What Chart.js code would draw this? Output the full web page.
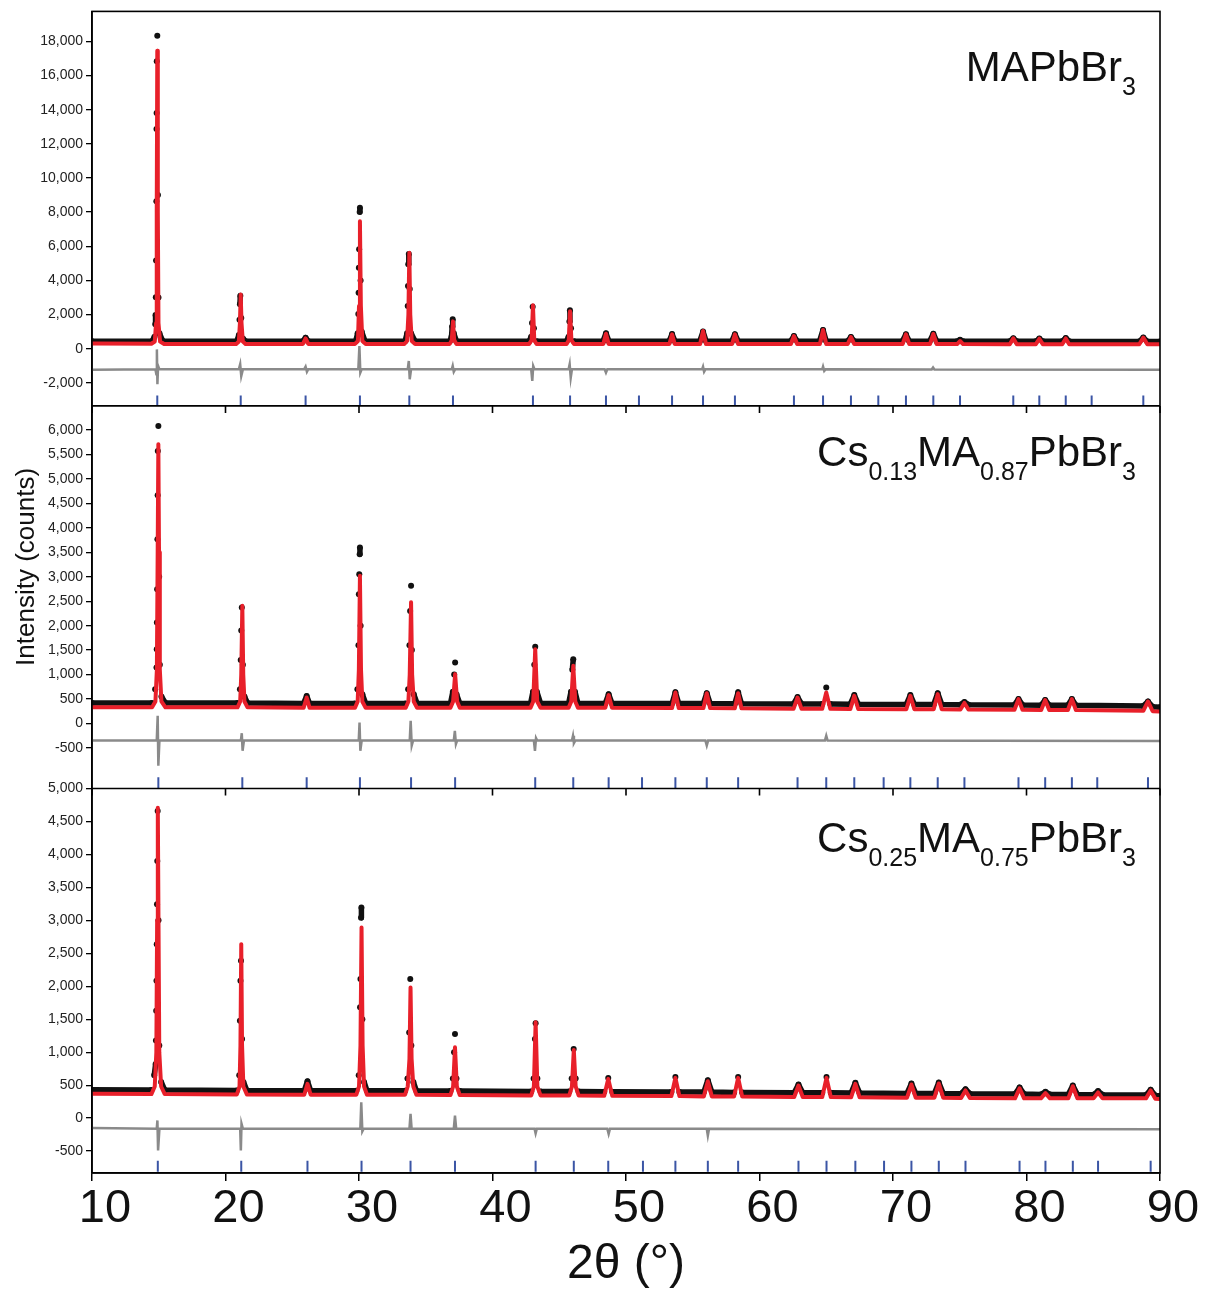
<!DOCTYPE html>
<html>
<head>
<meta charset="utf-8">
<title>XRD Rietveld refinement</title>
<script src="https://cdn.jsdelivr.net/npm/chart.js@4.4.1/dist/chart.umd.min.js"></script>
<style>
  html, body { margin: 0; padding: 0; background: #fff; }
  #wrap { width: 1209px; height: 1294px; }
</style>
</head>
<body>
<div id="wrap"><canvas id="xrd" width="1209" height="1294"></canvas></div>
<script>
// ---- data: [2theta, counts] ----

// MAPbBr3 (top panel)
const calcMA = [
  [10, 300], [14.45, 290], [14.7, 420], [14.8, 1500], [14.85, 8000], [14.89, 17450], [14.93, 8000], [14.98, 1500], [15.1, 420], [15.4, 280],
  [20.8, 280], [21.0, 420], [21.08, 1500], [21.14, 3180], [21.2, 1500], [21.3, 420], [21.5, 280],
  [25.8, 280], [26.0, 600], [26.2, 280],
  [29.7, 280], [29.92, 450], [30.0, 2500], [30.07, 7470], [30.14, 2500], [30.25, 450], [30.5, 280],
  [33.4, 280], [33.6, 450], [33.7, 2000], [33.77, 5615], [33.84, 2000], [33.95, 450], [34.2, 280],
  [36.8, 280], [36.95, 500], [37.04, 1600], [37.13, 500], [37.3, 280],
  [42.75, 280], [42.93, 500], [43.03, 2540], [43.13, 500], [43.3, 280],
  [45.55, 280], [45.71, 500], [45.81, 2200], [45.91, 500], [46.1, 280],
  [48.3, 280], [48.5, 880], [48.7, 280],
  [53.25, 275], [53.45, 840], [53.65, 275],
  [55.55, 275], [55.77, 1035], [55.99, 275],
  [57.95, 275], [58.16, 842], [58.4, 275],
  [62.35, 270], [62.58, 743], [62.82, 270],
  [64.52, 270], [64.76, 1094], [65.0, 270],
  [66.6, 270], [66.85, 684], [67.1, 270],
  [70.72, 270], [70.97, 842], [71.22, 270],
  [72.77, 270], [73.02, 861], [73.27, 270],
  [74.8, 270], [75.02, 450], [75.25, 270],
  [78.75, 265], [79.01, 608], [79.27, 265],
  [80.7, 265], [80.96, 585], [81.22, 265],
  [82.68, 265], [82.94, 600], [83.2, 265],
  [88.45, 260], [88.75, 650], [89.05, 260],
  [90, 255]
];
const obsMA = [
  [10, 440], [14.5, 440], [14.68, 700],
  [14.74, 1430], [14.76, 1970], [14.78, 3020], [14.8, 5170], [14.82, 8640], [14.83, 12870], [14.84, 13800], [14.85, 16830], [14.89, 18330], [14.94, 9000], [14.98, 3000], [15.05, 900], [15.3, 450],
  [20.85, 440], [21.0, 800], [21.05, 1700], [21.08, 2600], [21.11, 3100], [21.18, 1800], [21.3, 600], [21.5, 440],
  [25.8, 440], [26.0, 640], [26.2, 440],
  [29.75, 440], [29.9, 900], [29.95, 2030], [29.97, 3280], [29.99, 4740], [30.01, 5820], [30.05, 8000], [30.07, 8250], [30.12, 4000], [30.2, 1000], [30.45, 440],
  [33.45, 440], [33.6, 900], [33.65, 2500], [33.67, 3670], [33.69, 4940], [33.73, 5540], [33.8, 3500], [33.9, 900], [34.2, 440],
  [36.8, 440], [36.93, 700], [36.98, 1300], [37.02, 1720], [37.1, 900], [37.3, 440],
  [42.75, 440], [42.9, 700], [42.96, 1500], [43.01, 2450], [43.1, 1200], [43.3, 440],
  [45.55, 440], [45.7, 700], [45.76, 1600], [45.8, 2250], [45.88, 1200], [46.1, 440],
  [48.28, 440], [48.5, 900], [48.72, 440],
  [53.23, 440], [53.45, 860], [53.67, 440],
  [55.53, 440], [55.77, 1000], [56.0, 440],
  [57.93, 440], [58.16, 850], [58.4, 440],
  [62.33, 440], [62.58, 740], [62.83, 440],
  [64.5, 440], [64.76, 1100], [65.0, 440],
  [66.6, 440], [66.85, 690], [67.1, 440],
  [70.7, 440], [70.97, 840], [71.22, 440],
  [72.75, 440], [73.02, 880], [73.27, 440],
  [74.8, 430], [75.02, 520], [75.25, 430],
  [78.75, 430], [79.01, 610], [79.27, 430],
  [80.7, 430], [80.96, 590], [81.22, 430],
  [82.68, 430], [82.94, 620], [83.2, 430],
  [88.45, 420], [88.75, 650], [89.05, 420],
  [90, 420]
];
const diffMA = [
  [10, -1230], [14.75, -1210], [14.82, -1500], [14.86, -40], [14.9, -2080], [14.95, -1000], [15.05, -1210],
  [21.0, -1210], [21.1, -910], [21.18, -1600], [21.3, -1210],
  [25.9, -1200], [26.0, -1050], [26.1, -1350], [26.2, -1200],
  [29.95, -1210], [30.03, 160], [30.1, -1400], [30.2, -1210],
  [33.65, -1210], [33.73, -720], [33.8, -1790], [33.9, -1210],
  [36.95, -1210], [37.02, -1010], [37.1, -1350], [37.2, -1210],
  [42.9, -1210], [42.98, -1890], [43.05, -1010], [43.15, -1210],
  [45.7, -1210], [45.78, -910], [45.86, -1700], [45.95, -1210],
  [48.4, -1210], [48.5, -1400], [48.6, -1210],
  [55.7, -1210], [55.77, -1050], [55.85, -1350], [55.95, -1210],
  [64.7, -1210], [64.76, -1050], [64.85, -1300], [64.95, -1210],
  [72.9, -1220], [73.0, -1100], [73.1, -1220],
  [90, -1230]
];
const braggMA = [14.89, 21.14, 26.0, 30.07, 33.77, 37.04, 43.03, 45.81, 48.5, 50.97, 53.45, 55.77, 58.16,
  62.58, 64.76, 66.85, 68.9, 70.97, 73.02, 75.02, 79.01, 80.96, 82.94, 84.88, 88.75];

// Cs0.13MA0.87PbBr3 (middle panel)
const calcCs13 = [
  [10, 330], [14.5, 330], [14.75, 450], [14.86, 1100], [14.92, 3500], [14.97, 5708], [15.02, 3500], [15.08, 1100], [15.2, 450], [15.5, 330],
  [20.9, 330], [21.1, 450], [21.18, 1000], [21.26, 2405], [21.33, 1000], [21.42, 450], [21.65, 330],
  [25.85, 320], [26.08, 531], [26.3, 320],
  [29.7, 320], [29.9, 450], [29.99, 1100], [30.07, 3018], [30.15, 1100], [30.25, 450], [30.5, 320],
  [33.5, 320], [33.7, 450], [33.8, 1000], [33.9, 2480], [33.98, 1000], [34.1, 450], [34.35, 320],
  [36.85, 320], [37.05, 450], [37.2, 1009], [37.35, 450], [37.55, 320],
  [42.85, 320], [43.05, 450], [43.2, 1520], [43.35, 450], [43.6, 320],
  [45.7, 320], [45.9, 450], [46.05, 1179], [46.2, 450], [46.4, 320],
  [48.45, 320], [48.7, 580], [48.95, 320],
  [53.45, 315], [53.7, 634], [53.95, 315],
  [55.8, 315], [56.05, 620], [56.3, 315],
  [58.15, 310], [58.4, 620], [58.65, 310],
  [62.55, 300], [62.85, 531], [63.15, 300],
  [64.7, 300], [65.0, 634], [65.3, 300],
  [66.8, 295], [67.1, 566], [67.4, 295],
  [71.0, 290], [71.3, 566], [71.6, 290],
  [73.05, 290], [73.35, 600], [73.65, 290],
  [75.05, 285], [75.35, 420], [75.65, 285],
  [79.1, 280], [79.4, 498], [79.7, 280],
  [81.1, 275], [81.4, 480], [81.7, 275],
  [83.1, 275], [83.4, 498], [83.7, 275],
  [88.75, 260], [89.1, 450], [89.45, 250],
  [90, 245]
];
const obsCs13 = [
  [10, 420], [14.5, 420], [14.73, 700], [14.83, 1144], [14.85, 1520], [14.86, 2064], [14.88, 2746], [14.9, 3768], [14.92, 4667], [14.93, 5570], [14.97, 6083], [15.03, 3000], [15.08, 1200], [15.2, 550], [15.5, 420],
  [20.9, 420], [21.08, 700], [21.14, 1300], [21.18, 1900], [21.22, 2370], [21.3, 1200], [21.42, 550], [21.65, 420],
  [25.85, 410], [26.08, 560], [26.3, 410],
  [29.7, 410], [29.88, 700], [29.96, 1600], [29.99, 2640], [30.02, 3052], [30.05, 3460], [30.07, 3596], [30.12, 2000], [30.25, 600], [30.5, 410],
  [33.5, 410], [33.68, 700], [33.78, 1600], [33.83, 2300], [33.9, 2813], [33.96, 1500], [34.1, 600], [34.35, 410],
  [36.85, 410], [37.03, 650], [37.13, 1000], [37.2, 1247], [37.3, 600], [37.55, 410],
  [42.85, 410], [43.03, 650], [43.13, 1200], [43.2, 1567], [43.32, 650], [43.6, 410],
  [45.7, 410], [45.88, 650], [45.98, 1100], [46.05, 1315], [46.18, 650], [46.4, 410],
  [48.45, 410], [48.7, 600], [48.95, 410],
  [53.45, 410], [53.7, 640], [53.95, 410],
  [55.8, 410], [56.05, 620], [56.3, 410],
  [58.15, 405], [58.4, 640], [58.65, 405],
  [62.55, 400], [62.85, 540], [63.15, 400],
  [64.7, 400], [65.0, 736], [65.3, 400],
  [66.8, 395], [67.1, 580], [67.4, 395],
  [71.0, 390], [71.3, 580], [71.6, 390],
  [73.05, 390], [73.35, 620], [73.65, 390],
  [75.05, 385], [75.35, 440], [75.65, 385],
  [79.1, 380], [79.4, 500], [79.7, 380],
  [81.1, 375], [81.4, 480], [81.7, 375],
  [83.1, 375], [83.4, 500], [83.7, 375],
  [88.75, 360], [89.1, 450], [89.45, 340],
  [90, 330]
];
const diffCs13 = [
  [10, -350], [14.85, -350], [14.92, 157], [14.97, -864], [15.05, -350],
  [21.15, -350], [21.22, -200], [21.28, -557], [21.38, -350],
  [29.98, -350], [30.04, 20], [30.1, -557], [30.2, -350],
  [33.8, -350], [33.87, 55], [33.95, -450], [34.05, -350],
  [37.1, -350], [37.18, -150], [37.26, -420], [37.35, -350],
  [43.1, -350], [43.18, -560], [43.26, -300], [43.35, -350],
  [45.95, -350], [46.03, -250], [46.1, -400], [46.2, -350],
  [55.95, -350], [56.05, -450], [56.15, -350],
  [64.9, -350], [65.0, -250], [65.1, -350],
  [90, -360]
];
const braggCs13 = [14.97, 21.26, 26.08, 30.07, 33.9, 37.2, 43.2, 46.05, 48.7, 51.2, 53.7, 56.05, 58.4,
  62.85, 65.0, 67.1, 69.3, 71.3, 73.35, 75.35, 79.4, 81.4, 83.4, 85.3, 89.1];

// Cs0.25MA0.75PbBr3 (bottom panel)
const calcCs25 = [
  [10, 370], [14.45, 365], [14.7, 480], [14.82, 1000], [14.88, 3000], [14.93, 4706], [14.98, 3000], [15.04, 1000], [15.18, 480], [15.45, 365],
  [20.85, 360], [21.05, 480], [21.12, 1100], [21.18, 2639], [21.24, 1100], [21.34, 480], [21.6, 360],
  [25.9, 355], [26.14, 520], [26.38, 355],
  [29.8, 355], [30.0, 480], [30.11, 1100], [30.19, 2890], [30.27, 1100], [30.38, 480], [30.6, 355],
  [33.45, 355], [33.65, 480], [33.78, 900], [33.86, 1982], [33.94, 900], [34.07, 480], [34.3, 355],
  [36.85, 350], [37.05, 480], [37.19, 1074], [37.33, 480], [37.55, 350],
  [42.9, 345], [43.1, 480], [43.23, 1453], [43.36, 480], [43.6, 345],
  [45.75, 345], [45.95, 480], [46.09, 1035], [46.23, 480], [46.45, 345],
  [48.37, 340], [48.67, 596], [48.97, 340],
  [53.4, 335], [53.7, 611], [54.0, 335],
  [55.83, 330], [56.13, 560], [56.43, 330],
  [58.1, 330], [58.4, 611], [58.7, 330],
  [62.6, 320], [62.92, 495], [63.24, 320],
  [64.7, 320], [65.02, 611], [65.34, 320],
  [66.86, 315], [67.18, 520], [67.5, 315],
  [71.05, 310], [71.38, 510], [71.7, 310],
  [73.1, 310], [73.43, 525], [73.76, 310],
  [75.1, 305], [75.43, 420], [75.76, 305],
  [79.14, 300], [79.48, 454], [79.82, 300],
  [81.08, 300], [81.42, 380], [81.76, 300],
  [83.13, 300], [83.47, 484], [83.81, 300],
  [85.02, 300], [85.36, 390], [85.7, 300],
  [88.95, 300], [89.3, 420], [89.65, 295],
  [90, 290]
];
const obsCs25 = [
  [10, 430], [14.45, 425], [14.66, 650], [14.77, 823], [14.79, 1176], [14.81, 1630], [14.83, 2083], [14.85, 2639], [14.87, 3244], [14.89, 3900], [14.92, 4660], [14.98, 3000], [15.04, 1100], [15.18, 550], [15.45, 425],
  [20.85, 420], [21.03, 650], [21.08, 1478], [21.12, 2083], [21.16, 2386], [21.24, 1200], [21.34, 550], [21.6, 420],
  [25.9, 415], [26.14, 560], [26.38, 415],
  [29.8, 415], [29.98, 650], [30.08, 1680], [30.11, 2109], [30.15, 3041], [30.18, 3193], [30.25, 1500], [30.38, 550], [30.6, 415],
  [33.45, 415], [33.63, 600], [33.76, 1300], [33.84, 2109], [33.92, 1100], [34.07, 550], [34.3, 415],
  [36.85, 410], [37.03, 600], [37.12, 1000], [37.19, 1277], [37.3, 600], [37.55, 410],
  [42.9, 405], [43.08, 600], [43.18, 1200], [43.23, 1440], [43.36, 600], [43.6, 405],
  [45.75, 405], [45.93, 600], [46.08, 1050], [46.23, 600], [46.45, 405],
  [48.37, 400], [48.67, 610], [48.97, 400],
  [53.4, 395], [53.7, 625], [54.0, 395],
  [55.83, 395], [56.13, 575], [56.43, 395],
  [58.1, 390], [58.4, 625], [58.7, 390],
  [62.6, 385], [62.92, 510], [63.24, 385],
  [64.7, 385], [65.02, 625], [65.34, 385],
  [66.86, 380], [67.18, 535], [67.5, 380],
  [71.05, 375], [71.38, 525], [71.7, 375],
  [73.1, 375], [73.43, 540], [73.76, 375],
  [75.1, 370], [75.43, 440], [75.76, 370],
  [79.14, 365], [79.48, 465], [79.82, 365],
  [81.08, 360], [81.42, 400], [81.76, 360],
  [83.13, 360], [83.47, 495], [83.81, 360],
  [85.02, 355], [85.36, 410], [85.7, 355],
  [88.95, 350], [89.3, 430], [89.65, 345],
  [90, 340]
];
const diffCs25 = [
  [10, -150], [14.85, -160], [14.9, -35], [14.95, -489], [15.05, -160],
  [21.1, -160], [21.15, -489], [21.2, -85], [21.3, -160],
  [30.1, -160], [30.17, 242], [30.25, -200], [30.35, -160],
  [33.78, -160], [33.86, 66], [33.94, -160],
  [37.1, -160], [37.19, 40], [37.28, -160],
  [43.15, -160], [43.23, -232], [43.32, -160],
  [48.6, -160], [48.7, -240], [48.8, -160],
  [56.05, -160], [56.13, -265], [56.22, -160],
  [90, -170]
];
const braggCs25 = [14.93, 21.18, 26.14, 30.19, 33.86, 37.19, 43.23, 46.09, 48.67, 51.27, 53.7, 56.13, 58.4,
  62.92, 65.02, 67.18, 69.33, 71.38, 73.43, 75.43, 79.48, 81.42, 83.47, 85.36, 89.3];

// axis ticks
const xTicks = [10, 20, 30, 40, 50, 60, 70, 80, 90];
const yTicksMA = [-2000, 0, 2000, 4000, 6000, 8000, 10000, 12000, 14000, 16000, 18000];
const yTicksCs13 = [-500, 0, 500, 1000, 1500, 2000, 2500, 3000, 3500, 4000, 4500, 5000, 5500, 6000];
const yTicksCs25 = [-500, 0, 500, 1000, 1500, 2000, 2500, 3000, 3500, 4000, 4500, 5000];

// ---- chart ----
const RED = '#e8202a', BLACK = '#111', GREY = '#8a8a8a', BLUE = '#3b55a5';
const NARROW = '"Liberation Sans Narrow", "Arial Narrow", "Liberation Sans", Arial, sans-serif';
Chart.defaults.font.family = '"Liberation Sans", Arial, sans-serif';

function panelSets(obs, calc, diff, bragg, axis, braggLevel) {
  return [
    { data: calc, yAxisID: axis, borderColor: RED, borderWidth: 4, borderJoinStyle: 'round',
      pointRadius: 0, order: 1 },
    { data: obs, yAxisID: axis, borderColor: BLACK, borderWidth: 5.5, borderJoinStyle: 'round',
      pointRadius: 3, pointBackgroundColor: BLACK, pointBorderWidth: 0, order: 2,
      // steep flanks are shown as separate dots, not a line
      segment: { borderColor: c => Math.abs(c.p1.y - c.p0.y) > 12 ? 'rgba(0,0,0,0)' : BLACK } },
    { data: diff, yAxisID: axis, borderColor: GREY, borderWidth: 2.5, pointRadius: 0, order: 3 },
    { data: bragg.map(x => ({ x: x, y: braggLevel })), yAxisID: axis, showLine: false,
      pointStyle: 'line', rotation: 90, pointRadius: 5.5, borderColor: BLUE, borderWidth: 2, order: 4 }
  ];
}

function yScale(min, max, ticks, weight, stackWeight) {
  return {
    type: 'linear', position: 'left', stack: 'panels', stackWeight: stackWeight, weight: weight,
    min: min, max: max,
    afterBuildTicks: s => { s.ticks = ticks.map(v => ({ value: v })); },
    afterFit: s => { s.width = 92; },
    ticks: { callback: v => v.toLocaleString('en-US'), color: '#222', font: { size: 14 }, padding: 3, autoSkip: false },
    grid: { drawOnChartArea: false, tickLength: 6, color: '#000', lineWidth: 1.3 },
    border: { color: '#000', width: 1.6 }
  };
}

const panelLabels = [
  { axis: 'yTop', dy: 70, parts: [['MAPbBr', 0], ['3', 1]] },
  { axis: 'yMid', dy: 60, parts: [['Cs', 0], ['0.13', 1], ['MA', 0], ['0.87', 1], ['PbBr', 0], ['3', 1]] },
  { axis: 'yBot', dy: 64, parts: [['Cs', 0], ['0.25', 1], ['MA', 0], ['0.75', 1], ['PbBr', 0], ['3', 1]] }
];

const framePlugin = {
  id: 'frame',
  afterDraw(chart) {
    const { ctx, chartArea: a, scales } = chart;
    ctx.save();
    ctx.strokeStyle = '#000';
    ctx.lineWidth = 1.6;
    ctx.strokeRect(a.left, a.top, a.right - a.left, a.bottom - a.top);
    // panel separators with the 2theta ticks hanging below them
    ['yTop', 'yMid'].forEach(id => {
      const y = scales[id].bottom;
      ctx.beginPath();
      ctx.moveTo(a.left, y);
      ctx.lineTo(a.right, y);
      xTicks.forEach(v => {
        const px = scales.x.getPixelForValue(v);
        ctx.moveTo(px, y);
        ctx.lineTo(px, y + 7);
      });
      ctx.stroke();
    });

    // sample names
    ctx.fillStyle = '#111';
    ctx.textBaseline = 'alphabetic';
    ctx.textAlign = 'left';
    const big = '42px "Liberation Sans", Arial, sans-serif';
    const small = '25px "Liberation Sans", Arial, sans-serif';
    panelLabels.forEach(l => {
      let w = 0;
      l.parts.forEach(p => { ctx.font = p[1] ? small : big; w += ctx.measureText(p[0]).width; });
      let x = a.right - 24 - w;
      const y = scales[l.axis].top + l.dy;
      l.parts.forEach(p => {
        ctx.font = p[1] ? small : big;
        ctx.fillText(p[0], x, p[1] ? y + 14 : y);
        x += ctx.measureText(p[0]).width;
      });
    });

    // shared y title
    ctx.translate(27, scales.yMid.top + 161);
    ctx.rotate(-Math.PI / 2);
    ctx.textAlign = 'center';
    ctx.textBaseline = 'middle';
    ctx.font = '26px "Liberation Sans", Arial, sans-serif';
    ctx.fillText('Intensity (counts)', 0, 0);
    ctx.restore();
  }
};

new Chart(document.getElementById('xrd'), {
  type: 'line',
  data: {
    datasets: [
      ...panelSets(obsMA, calcMA, diffMA, braggMA, 'yTop', -3060),
      ...panelSets(obsCs13, calcCs13, diffCs13, braggCs13, 'yMid', -1211),
      ...panelSets(obsCs25, calcCs25, diffCs25, braggCs25, 'yBot', -731)
    ]
  },
  options: {
    responsive: false,
    animation: false,
    events: [],
    layout: { padding: { top: 10, right: 49, left: 0, bottom: 0 } },
    plugins: { legend: { display: false }, tooltip: { enabled: false } },
    scales: {
      x: {
        type: 'linear', min: 10, max: 90,
        afterBuildTicks: s => { s.ticks = xTicks.map(v => ({ value: v })); },
        afterFit: s => { s.height = 121; },
        ticks: { labelOffset: 13, padding: 0, color: '#111', maxRotation: 0, autoSkip: false,
                 font: { family: NARROW, size: 47 } },
        grid: { drawOnChartArea: false, tickLength: 8, color: '#000', lineWidth: 1.5 },
        border: { color: '#000', width: 1.6 },
        title: { display: true, text: '2θ (°)', color: '#111', padding: { top: 0, bottom: 0 },
                 font: { family: NARROW, size: 48 } }
      },
      yTop: yScale(-3352, 19755, yTicksMA, 3, 395),
      yMid: yScale(-1328, 6491, yTicksCs13, 2, 383),
      yBot: yScale(-832, 5000, yTicksCs25, 1, 385)
    }
  },
  plugins: [framePlugin]
});
</script>
</body>
</html>
